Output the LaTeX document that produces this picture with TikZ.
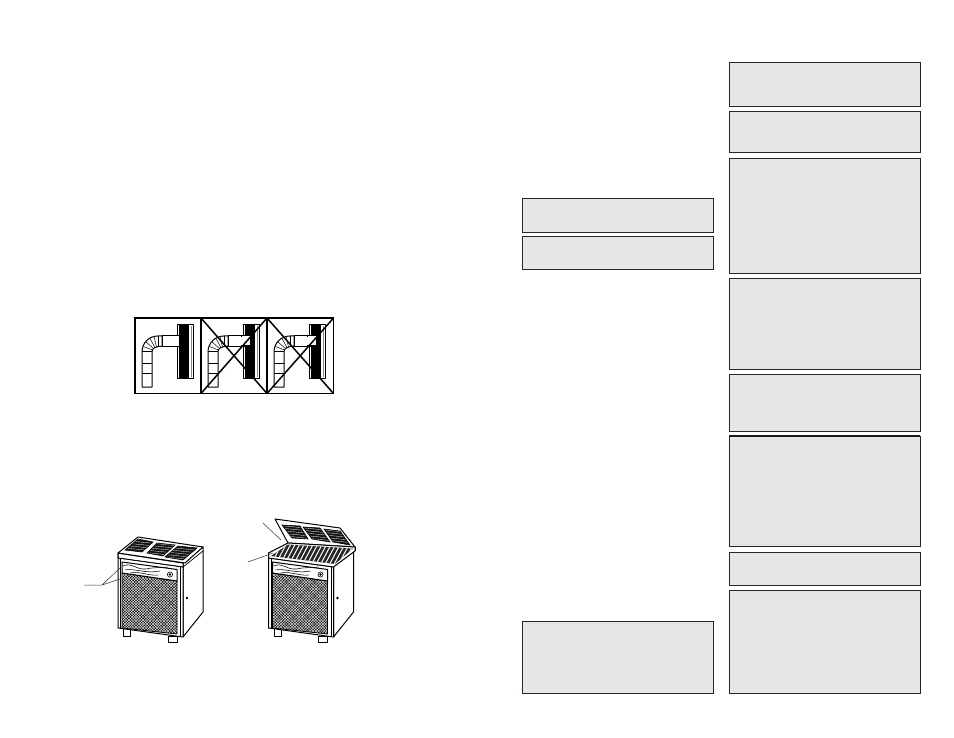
\documentclass[tikz,border=0pt]{standalone}
\definecolor{panelgray}{HTML}{E5E6E7}
\tikzset{
  panel/.style={draw=black!85,line width=0.9pt,fill=panelgray},
  thin line/.style={draw=black,line width=1pt,line join=round},
  fat line/.style={draw=black,line width=1.5pt},
  leader/.style={draw=black!80,line width=0.5pt},
  pics/duct/.style={code={
    \draw[thin line,fill=white] (177,325) rectangle (193,378);
    \fill[black] (179,325.5) rectangle (189,377.5);
    \fill[black!45] (190.5,326) rectangle (192,377);
    \draw[thin line,fill=white] (162,336) rectangle (179,346.5);
    \draw[thin line,fill=white] (142,387) -- (142,352) .. controls (142,343) and (149,336) .. (158,336) -- (162,336) -- (162,346.5) -- (158,346.5) .. controls (155,346.5) and (152,349) .. (152,352) -- (152,387) -- cycle;
    \draw[thin line] (142,363) -- (152,363) (142,373) -- (152,373) (142,352) -- (152,352) (158,336) -- (158,346.5);
    \draw[draw=black,line width=0.5pt] (143.5,346.5) -- (152.5,350) (146,342) -- (153.5,348.5) (150,338.5) -- (155,347.5) (154,336.5) -- (156.5,347);
  }},
  pics/unit/.style={code={
    % feet
    \draw[thin line,fill=white] (123.5,626) rectangle (130.5,636);
    \draw[thin line,fill=white] (168,636) rectangle (177,642);
    % side
    \draw[thin line,fill=white] (183,563) -- (203,547) -- (203,612) -- (183,637) -- cycle;
    \fill[black] (187,598) circle (1.4);
    % front
    \draw[thin line,fill=white] (118,553) -- (118,628) -- (183,637) -- (183,563) -- cycle;
    \draw[draw=black,line width=0.7pt] (120.5,558) -- (120.5,628) (180.5,566) -- (180.5,636);
    % grille
    \begin{scope}
      \clip (122,573) -- (177,581) -- (177,634) -- (122,628) -- cycle;
      \fill[black!92] (118,570) rectangle (180,640);
      \foreach \k in {0,2.8,...,210}{
        \draw[white,line width=0.3pt] (40+\k,570) -- (40+\k+70,640);
        \draw[white,line width=0.3pt] (50+\k,570) -- (50+\k-70,640);
      }
    \end{scope}
    \draw[black,line width=0.8pt] (122,573) -- (177,581) -- (177,634) -- (122,628) -- cycle;
    % control strip
    \draw[thin line,fill=white] (122,562) -- (177,569.5) -- (177,581) -- (122,573) -- cycle;
    \draw[draw=black,line width=0.55pt] (123,566) .. controls (132,562) and (136,570) .. (146,569) .. controls (155,567) and (160,568) .. (168,567)
      (125,570) .. controls (134,568) and (146,574) .. (160,571) (130,573) .. controls (140,571) and (148,576) .. (158,575);
    \draw[black,line width=0.6pt] (170,574.5) circle (2.6);
    \fill[black] (170,574.5) circle (1.3);
    \draw[black,line width=0.7pt] (118,558) -- (183,567);
  }}
}
\begin{document}
\begin{tikzpicture}[x=1pt,y=-1pt]
\useasboundingbox[fill=white] (0,0) rectangle (954,738);

% ducts
\foreach \dx in {0,66,132}{ \pic at (\dx,0) {duct}; }
\foreach \dx in {66,132}{
  \draw[thin line,fill=white] (\dx+175,336) rectangle (\dx+184,346);
  \fill[white] (\dx+174,337) rectangle (\dx+183.5,345.5);
}
\draw[fat line] (135,318) rectangle (333.5,393.5);
\draw[fat line] (201,318) -- (201,393.5) (267,318) -- (267,393.5);
\draw[fat line] (201,318) -- (267,393.5) (201,393.5) -- (267,318);
\draw[fat line] (267,318) -- (333.5,393.5) (267,393.5) -- (333.5,318);

% closed unit
\pic at (0,0) {unit};
\draw[thin line,fill=white] (118,553) -- (138,537) -- (203,547) -- (185,563) -- cycle;
\draw[black,line width=0.7pt] (118,553) -- (118,558) -- (183,567) -- (203,551);
\foreach \a/\b/\c/\d in {
  {125,550}/{138,539}/{153,542}/{142,552},
  {147,553}/{157,543}/{175,545}/{163,556},
  {165,557}/{178,546}/{197,548}/{183,560}}{
  \begin{scope}
    \clip (\a) -- (\b) -- (\c) -- (\d) -- cycle;
    \fill[black!92] (120,535) rectangle (200,562);
    \foreach \y in {530,532.5,...,565}{ \draw[white,line width=0.3pt] (120,\y) -- (200,\y+8); }
  \end{scope}
  \draw[black,line width=0.6pt] (\a) -- (\b) -- (\c) -- (\d) -- cycle;
}
\coordinate (la) at (84,585);
\coordinate (lb) at (102,585);
\coordinate (lc) at (120,568);
\coordinate (ld) at (120,579);
\draw[leader] (la) -- (lb) -- (lc) (lb) -- (ld);

% open unit
\pic at (150.5,0) {unit};
\draw[thin line,fill=white] (275,519) -- (340,528) -- (355,547) -- (288,543) -- cycle;
\foreach \a/\b/\c/\d in {
  {282,525}/{300,526}/{308,539}/{292,538},
  {303,527}/{320,528}/{330,542}/{312,539},
  {324,529}/{340,531}/{350,545}/{333,542}}{
  \begin{scope}
    \clip (\a) -- (\b) -- (\c) -- (\d) -- cycle;
    \fill[black!92] (275,520) rectangle (355,550);
    \foreach \y in {515,517.5,...,550}{ \draw[white,line width=0.3pt] (275,\y) -- (355,\y+8); }
  \end{scope}
  \draw[black,line width=0.6pt] (\a) -- (\b) -- (\c) -- (\d) -- cycle;
}
\draw[thin line,fill=white] (268.5,553) -- (288,543) -- (355,547) -- (355,551) -- (333.5,567) -- (268.5,558) -- cycle;
\begin{scope}
  \clip (271,556) -- (288,544.5) -- (353,548.5) -- (335,564) -- cycle;
  \fill[black!85] (265,540) rectangle (358,570);
  \foreach \k in {0,4.5,...,90}{ \draw[white,line width=1pt] (268+\k,570) -- (284+\k,540); }
\end{scope}
\draw[thin line] (355,547) -- (355,551);
\coordinate (lf) at (263,523);
\coordinate (lg) at (281,540);
\coordinate (lh) at (248,562);
\coordinate (li) at (273,553);
\draw[leader] (lf) -- (lg) (lh) -- (li);

% left column panels
\foreach \y/\h in {198/232.5,236/269.5,621/693.5}{
  \draw[panel] (522.5,\y) rectangle (713.5,\h);
  \draw[black!85,line width=1.6pt] (522.5,\y) -- (522.5,\h);
}
% right column panels
\foreach \y/\h in {62/106.5,111/152.5,158/273.5,278/369.5,374/431.5,436/546.5,552/585.5,590/693.5}{
  \draw[panel] (729,\y) rectangle (920,\h);
}
\draw[black!90,line width=1.3pt] (729,436) -- (920,436);
\end{tikzpicture}
\end{document}
